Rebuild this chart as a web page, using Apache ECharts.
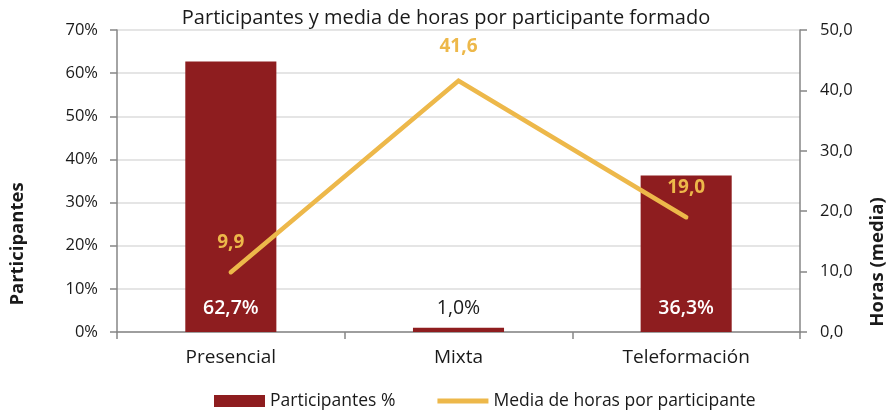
<!DOCTYPE html>
<html>
<head>
<meta charset="utf-8">
<script src="https://cdn.jsdelivr.net/npm/echarts@6/dist/echarts.min.js"></script>
<style>html,body{margin:0;padding:0;background:#fff}#c{width:890px;height:410px}</style>
</head>
<body>
<div id="c"></div>
<script>
var categories = ['Presencial', 'Mixta', 'Teleformación'];
var participantes = [62.7, 1.0, 36.3];
var horas = [9.9, 41.6, 19.0];
var leftTicks = [0, 10, 20, 30, 40, 50, 60, 70];
var rightTicks = [0, 10, 20, 30, 40, 50];

var FONT = '"Open Sans", sans-serif';
var chart = echarts.init(document.getElementById('c'), null, {renderer: 'canvas'});
var barColor = '#8E1D1F';
var lineColor = '#EDB84A';
var textColor = '#1a1a1a';
var fmt1 = function (v) { return v.toFixed(1).replace('.', ','); };

chart.setOption({
  animation: false,
  textStyle: {fontFamily: FONT},
  title: {
    text: 'Participantes y media de horas por participante formado',
    left: 446, textAlign: 'center', top: 8, padding: 0,
    textStyle: {fontFamily: FONT, fontSize: 20, fontWeight: 'normal', color: textColor}
  },
  grid: {left: 117, right: 90, top: 30, bottom: 78, containLabel: false},
  legend: {
    top: 392, left: 214, padding: 0, itemGap: 42, itemWidth: 51, itemHeight: 12,
    textStyle: {fontFamily: FONT, fontSize: 17.5, color: textColor},
    data: [
      {name: 'Participantes %', icon: 'rect'},
      {name: 'Media de horas por participante', icon: 'path://M0,0H52V5H0Z'}
    ]
  },
  xAxis: {
    type: 'category', data: categories,
    axisLine: {lineStyle: {color: '#868686', width: 1.5}},
    axisTick: {show: true, length: 7, lineStyle: {color: '#868686', width: 1.5}},
    axisLabel: {fontFamily: FONT, fontSize: 19, color: textColor, margin: 16}
  },
  yAxis: [
    {
      type: 'value', min: 0, max: 70, interval: 10,
      axisLine: {show: true, lineStyle: {color: '#868686', width: 1.5}},
      axisTick: {show: true, length: 7, lineStyle: {color: '#868686', width: 1.5}},
      splitLine: {lineStyle: {color: '#dcdcdc', width: 1.5}},
      axisLabel: {fontFamily: FONT, fontSize: 16.5, color: textColor, margin: 19,
        formatter: function (v) { return leftTicks.indexOf(v) >= 0 ? v + '%' : ''; }}
    },
    {
      type: 'value', min: 0, max: 50, interval: 10, position: 'right',
      axisLine: {show: true, lineStyle: {color: '#868686', width: 1.5}},
      axisTick: {show: true, length: 7, lineStyle: {color: '#868686', width: 1.5}},
      splitLine: {show: false},
      axisLabel: {fontFamily: FONT, fontSize: 16.5, color: textColor, margin: 20,
        formatter: function (v) { return rightTicks.indexOf(v) >= 0 ? fmt1(v) : ''; }}
    }
  ],
  graphic: [
    {type: 'text', x: 18, y: 244, rotation: Math.PI / 2,
      style: {text: 'Participantes', fontFamily: FONT, fontSize: 18.5, fontWeight: 'bold', fill: textColor, align: 'center', verticalAlign: 'middle'}},
    {type: 'text', x: 878, y: 262, rotation: Math.PI / 2,
      style: {text: 'Horas (media)', fontFamily: FONT, fontSize: 18.5, fontWeight: 'bold', fill: textColor, align: 'center', verticalAlign: 'middle'}}
  ],
  series: [
    {
      name: 'Participantes %', type: 'bar', yAxisIndex: 0, barWidth: '40%',
      itemStyle: {color: barColor},
      data: participantes.map(function (v, i) {
        return {value: v, label: {color: i === 1 ? textColor : '#ffffff', fontWeight: i === 1 ? 'normal' : 600}};
      }),
      label: {show: true, position: 'insideBottom', distance: 14, fontFamily: FONT, fontSize: 19.5,
        formatter: function (p) { return fmt1(p.value) + '%'; }},
      z: 2
    },
    {
      name: 'Media de horas por participante', type: 'line', yAxisIndex: 1,
      data: horas.map(function (v, i) { return {value: v, label: {distance: i === 1 ? 24 : 20}}; }),
      symbol: 'circle', symbolSize: 1, showSymbol: true,
      lineStyle: {color: lineColor, width: 4.5, cap: 'round', join: 'miter'},
      itemStyle: {color: lineColor},
      label: {show: true, position: 'top', color: lineColor, fontFamily: FONT, fontSize: 19, fontWeight: 'bold',
        formatter: function (p) { return fmt1(p.value); }},
      z: 3
    }
  ]
});
</script>
</body>
</html>
